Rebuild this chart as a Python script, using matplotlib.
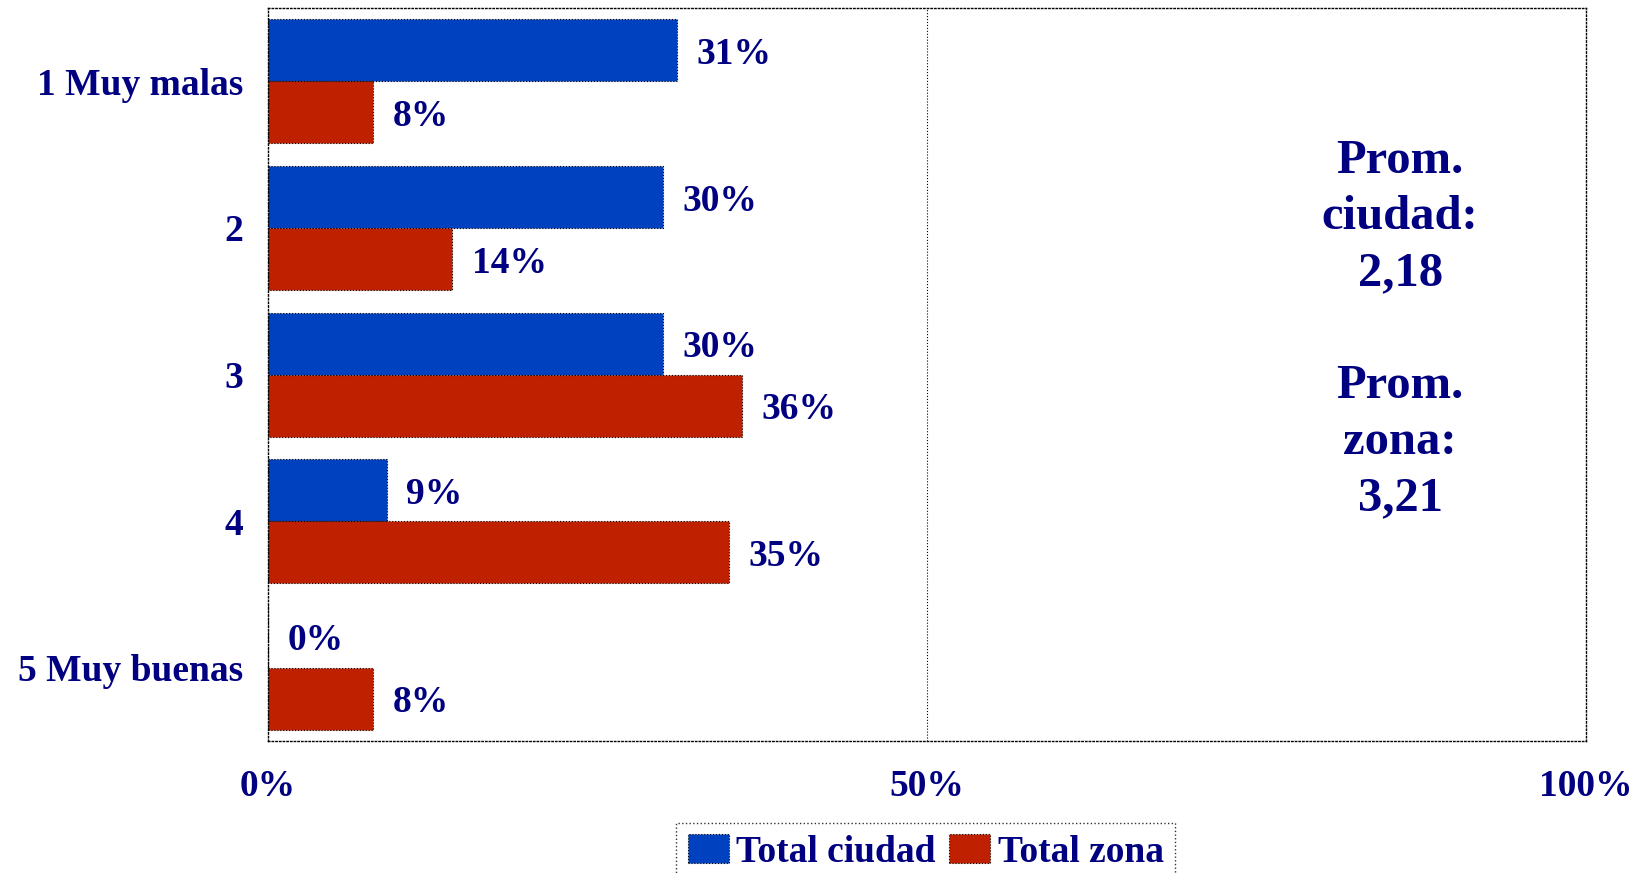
import matplotlib
matplotlib.use("Agg")
import matplotlib.pyplot as plt
import numpy as np

categories = ["1 Muy malas", "2", "3", "4", "5 Muy buenas"]
ciudad = [31, 30, 30, 9, 0]
zona = [8, 14, 36, 35, 8]
series_names = ["Total ciudad", "Total zona"]
xticks = [0, 50, 100]
note = "Prom.\nciudad:\n2,18\n\nProm.\nzona:\n3,21"

navy = "#000080"
blue = "#0041C0"
red = "#BF2000"

plt.rcParams["font.family"] = ["Liberation Serif", "DejaVu Serif"]
plt.rcParams["font.weight"] = "bold"

fig = plt.figure(figsize=(16.5, 8.73), dpi=100)
ax = fig.add_axes([0.1624, 0.1512, 0.7988, 0.8396])

y = np.arange(len(categories))
h = 0.423
bars1 = ax.barh(y - h / 2, ciudad, height=h, color=blue, edgecolor="black",
                linewidth=0.8, linestyle=":", label=series_names[0])
bars2 = ax.barh(y + h / 2, zona, height=h, color=red, edgecolor="black",
                linewidth=0.8, linestyle=":", label=series_names[1])

# value labels next to each bar
for bars, vals in [(bars1, ciudad), (bars2, zona)]:
    for b, v in zip(bars, vals):
        ax.annotate(f"{v}%", (b.get_width(), b.get_y() + b.get_height() / 2),
                    xytext=(14, -3), textcoords="offset points",
                    ha="left", va="center", fontsize=27, color=navy,
                    fontweight="bold")

ax.set_xlim(0, 100)
ax.set_ylim(4.5, -0.5)
ax.set_xticks(xticks)
ax.set_xticklabels([f"{t}%" for t in xticks], fontsize=27, color=navy,
                   fontweight="bold")
ax.set_yticks(y)
ax.set_yticklabels(categories, fontsize=27, color=navy, fontweight="bold")
ax.tick_params(length=0)
ax.tick_params(axis="y", pad=18)
ax.tick_params(axis="x", pad=20)
ax.axvline(50, color="black", linewidth=0.8, linestyle=":")
for s in ax.spines.values():
    s.set_linestyle(":")
    s.set_linewidth(1.0)

ax.text(0.859, 0.561, note, transform=ax.transAxes, ha="center", va="center",
        fontsize=35, color=navy, fontweight="bold", linespacing=1.36)

leg = fig.legend(loc="upper center", bbox_to_anchor=(0.561, 0.057), ncol=2,
                 fontsize=27, frameon=True, fancybox=False, edgecolor="black",
                 handlelength=1.1, handleheight=0.8, handletextpad=0.2,
                 columnspacing=0.35, borderpad=0.3, borderaxespad=0)
for t in leg.get_texts():
    t.set_color(navy)
leg.get_frame().set_linestyle(":")
leg.get_frame().set_linewidth(1.0)

fig.savefig("out.png", dpi=100)
